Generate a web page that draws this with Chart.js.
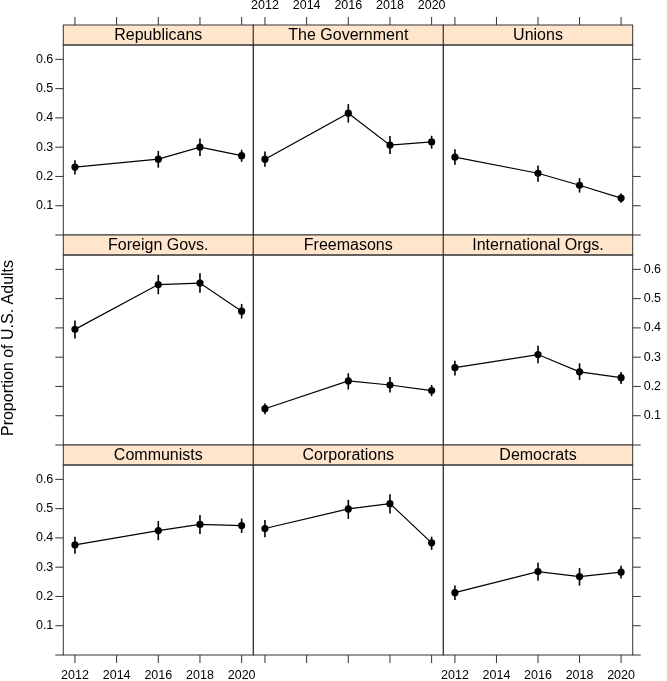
<!DOCTYPE html>
<html>
<head>
<meta charset="utf-8">
<script src="https://cdn.jsdelivr.net/npm/chart.js@4/dist/chart.umd.min.js"></script>
<style>
  html, body { margin: 0; padding: 0; background: #fff; }
  #wrap { position: relative; width: 667px; height: 681px; overflow: hidden; }
  #wrap canvas { position: absolute; left: 0; top: 0; }
</style>
</head>
<body>
<div id="wrap"></div>
<script>
// ── Data ─────────────────────────────────────────────────
const years = [2012, 2016, 2018, 2020];
const xTicks = [2012, 2014, 2016, 2018, 2020];
const yTicks = [0, 0.1, 0.2, 0.3, 0.4, 0.5, 0.6];
const yTickLabels = ["", "0.1", "0.2", "0.3", "0.4", "0.5", "0.6"];

const panelNames = [
  "Republicans", "The Government", "Unions",
  "Foreign Govs.", "Freemasons", "International Orgs.",
  "Communists", "Corporations", "Democrats"
];

const republicans = [0.232, 0.259, 0.300, 0.271];
const republicansLo = [0.207, 0.230, 0.270, 0.250];
const republicansHi = [0.255, 0.287, 0.330, 0.291];

const government = [0.259, 0.416, 0.307, 0.318];
const governmentLo = [0.233, 0.384, 0.277, 0.295];
const governmentHi = [0.285, 0.447, 0.338, 0.339];

const unions = [0.266, 0.211, 0.170, 0.126];
const unionsLo = [0.240, 0.182, 0.145, 0.110];
const unionsHi = [0.293, 0.237, 0.194, 0.142];

const foreignGovs = [0.395, 0.548, 0.553, 0.457];
const foreignGovsLo = [0.364, 0.515, 0.520, 0.432];
const foreignGovsHi = [0.425, 0.581, 0.587, 0.482];

const freemasons = [0.124, 0.219, 0.205, 0.186];
const freemasonsLo = [0.105, 0.190, 0.179, 0.167];
const freemasonsHi = [0.142, 0.245, 0.232, 0.205];

const intlOrgs = [0.264, 0.309, 0.250, 0.230];
const intlOrgsLo = [0.237, 0.279, 0.222, 0.208];
const intlOrgsHi = [0.288, 0.339, 0.279, 0.249];

const communists = [0.376, 0.425, 0.446, 0.442];
const communistsLo = [0.346, 0.392, 0.413, 0.417];
const communistsHi = [0.404, 0.458, 0.478, 0.466];

const corporations = [0.432, 0.499, 0.517, 0.383];
const corporationsLo = [0.402, 0.465, 0.483, 0.359];
const corporationsHi = [0.461, 0.530, 0.549, 0.404];

const democrats = [0.213, 0.285, 0.268, 0.283];
const democratsLo = [0.188, 0.254, 0.237, 0.261];
const democratsHi = [0.237, 0.315, 0.297, 0.305];

const panelValues = [republicans, government, unions, foreignGovs, freemasons, intlOrgs, communists, corporations, democrats];
const panelLo = [republicansLo, governmentLo, unionsLo, foreignGovsLo, freemasonsLo, intlOrgsLo, communistsLo, corporationsLo, democratsLo];
const panelHi = [republicansHi, governmentHi, unionsHi, foreignGovsHi, freemasonsHi, intlOrgsHi, communistsHi, corporationsHi, democratsHi];

// ── Layout ───────────────────────────────────────────────
const W = 667, H = 681;
const colX = [63.3, 253.3, 443.3, 632.7];
const rowTop = [45, 255, 465];
const PLOT_H = 190, STRIP_H = 20, TICK = 8;
const LINE_COL = "#333";
const FONT = "'Liberation Sans', Arial, sans-serif";

// ── Panel decoration plugin ──────────────────────────────
const panelPlugin = {
  id: "panel",
  beforeDatasetsDraw(chart) {
    const { ctx, scales: { x, y } } = chart;
    const o = chart.options.plugins.panel;
    ctx.save();
    ctx.strokeStyle = "#000";
    ctx.lineWidth = 1.6;
    o.lo.forEach((lo, i) => {
      const px = x.getPixelForValue(years[i]);
      ctx.beginPath();
      ctx.moveTo(px, y.getPixelForValue(lo));
      ctx.lineTo(px, y.getPixelForValue(o.hi[i]));
      ctx.stroke();
    });
    ctx.restore();
  },
  afterDraw(chart) {
    const { ctx, chartArea: a, scales: { x, y } } = chart;
    const o = chart.options.plugins.panel;
    const r = o.row, c = o.col;
    ctx.save();
    // strip
    ctx.fillStyle = "#ffe5cc";
    ctx.fillRect(a.left, a.top - STRIP_H, a.right - a.left, STRIP_H);
    ctx.strokeStyle = LINE_COL;
    ctx.lineWidth = 1;
    ctx.strokeRect(a.left, a.top - STRIP_H, a.right - a.left, STRIP_H);
    ctx.strokeRect(a.left, a.top, a.right - a.left, a.bottom - a.top);
    ctx.fillStyle = "#000";
    ctx.font = "16px " + FONT;
    ctx.textAlign = "center";
    ctx.textBaseline = "middle";
    ctx.fillText(o.title, (a.left + a.right) / 2, a.top - STRIP_H / 2 + 1);

    ctx.font = "12.5px " + FONT;
    ctx.beginPath();
    // y ticks
    yTicks.forEach((v, i) => {
      const py = y.getPixelForValue(v);
      if (c === 0) {
        ctx.moveTo(a.left, py); ctx.lineTo(a.left - TICK, py);
        if (r !== 1) { ctx.textAlign = "right"; ctx.fillText(yTickLabels[i], a.left - 10, py); }
      }
      if (c === 2) {
        ctx.moveTo(a.right, py); ctx.lineTo(a.right + TICK, py);
        if (r === 1) { ctx.textAlign = "left"; ctx.fillText(yTickLabels[i], a.right + 11, py); }
      }
    });
    // x ticks
    ctx.textAlign = "center";
    xTicks.forEach((v) => {
      const px = x.getPixelForValue(v);
      if (r === 0) {
        const top = a.top - STRIP_H;
        ctx.moveTo(px, top); ctx.lineTo(px, top - TICK);
        if (c === 1) ctx.fillText(String(v), px, 6);
      }
      if (r === 2) {
        ctx.moveTo(px, a.bottom); ctx.lineTo(px, a.bottom + TICK);
        if (c !== 1) ctx.fillText(String(v), px, 676);
      }
    });
    ctx.stroke();
    ctx.restore();
  }
};

// ── Build the 3x3 grid ───────────────────────────────────
const wrap = document.getElementById("wrap");
panelNames.forEach((name, k) => {
  const r = Math.floor(k / 3), c = k % 3;
  const canvas = document.createElement("canvas");
  canvas.width = W; canvas.height = H;
  canvas.style.width = W + "px"; canvas.style.height = H + "px";
  wrap.appendChild(canvas);
  new Chart(canvas, {
    type: "line",
    data: {
      datasets: [{
        data: years.map((yr, i) => ({ x: yr, y: panelValues[k][i] })),
        borderColor: "#000",
        borderWidth: 1.2,
        pointRadius: 3.6,
        pointBackgroundColor: "#000",
        pointBorderWidth: 0,
        tension: 0,
        clip: false
      }]
    },
    options: {
      responsive: false,
      animation: false,
      events: [],
      layout: { padding: { left: colX[c], right: W - colX[c + 1], top: rowTop[r], bottom: H - rowTop[r] - PLOT_H } },
      plugins: {
        legend: { display: false },
        tooltip: { enabled: false },
        panel: { row: r, col: c, title: name, lo: panelLo[k], hi: panelHi[k] }
      },
      scales: {
        x: { type: "linear", min: 2011.44, max: 2020.56, display: false },
        y: { min: 0, max: 0.649, display: false }
      }
    },
    plugins: [panelPlugin]
  });
});

// y axis title
const title = document.createElement("canvas");
title.width = W; title.height = H;
wrap.appendChild(title);
const tctx = title.getContext("2d");
tctx.save();
tctx.translate(9, 348);
tctx.rotate(-Math.PI / 2);
tctx.font = "16px " + FONT;
tctx.textAlign = "center";
tctx.textBaseline = "middle";
tctx.fillStyle = "#000";
tctx.fillText("Proportion of U.S. Adults", 0, 0);
tctx.restore();
</script>
</body>
</html>
